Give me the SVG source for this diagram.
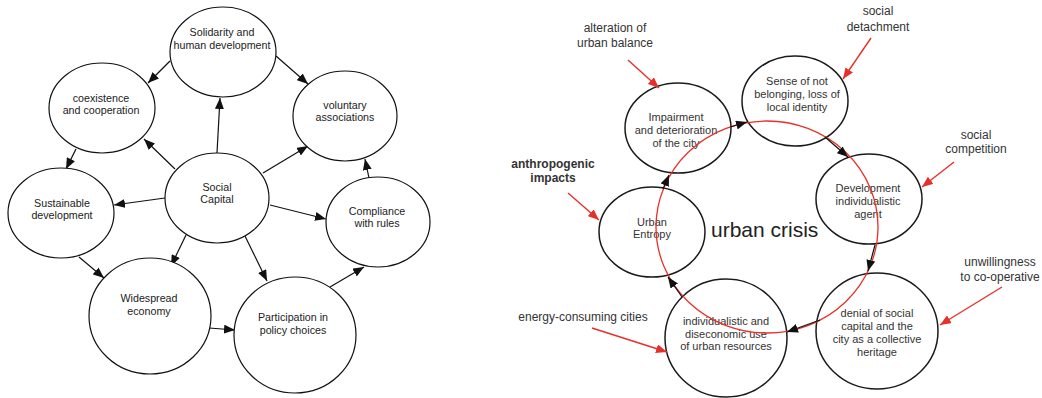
<svg xmlns="http://www.w3.org/2000/svg" width="1042" height="398" viewBox="0 0 1042 398">
<style>
.n{fill:#fff;stroke:#111;stroke-width:1.2}
.rn{fill:#fff;stroke:#1a1a1a;stroke-width:1.5}
.t{font-family:"Liberation Sans",Arial,sans-serif;font-size:10.7px;fill:#222;text-anchor:middle}
.rt{font-family:"Liberation Sans",Arial,sans-serif;font-size:11px;fill:#333;text-anchor:middle}
.lb{font-family:"Liberation Sans",Arial,sans-serif;font-size:12px;fill:#333;text-anchor:middle}
.e{stroke:#111;stroke-width:1.2;fill:none;marker-end:url(#ah)}
.re{stroke:#e8302a;stroke-width:1.4;fill:none;marker-end:url(#rh)}
</style>
<defs>
<marker id="ah" markerUnits="userSpaceOnUse" markerWidth="11" markerHeight="9" refX="11" refY="4.5" orient="auto"><path d="M0,0 L11,4.5 L0,9 z" fill="#111"/></marker>
<marker id="rh" markerUnits="userSpaceOnUse" markerWidth="11" markerHeight="9" refX="11" refY="4.5" orient="auto"><path d="M0,0 L11,4.5 L0,9 z" fill="#e8302a"/></marker>
</defs>
<rect width="1042" height="398" fill="#fff"/>

<g id="connectors-left">
<line class="e" x1="170" y1="61" x2="148" y2="83"/>
<line class="e" x1="276" y1="56" x2="308" y2="84"/>
<line class="e" x1="217" y1="153" x2="220" y2="98"/>
<line class="e" x1="175" y1="169" x2="144" y2="139"/>
<line class="e" x1="263" y1="173" x2="308" y2="146"/>
<line class="e" x1="76" y1="149" x2="66" y2="169"/>
<line class="e" x1="165" y1="198" x2="114" y2="205"/>
<line class="e" x1="270" y1="205" x2="326" y2="219"/>
<line class="e" x1="186" y1="235" x2="171" y2="266"/>
<line class="e" x1="245" y1="236" x2="267" y2="281"/>
<line class="e" x1="79" y1="257" x2="104" y2="278"/>
<line class="e" x1="209" y1="328" x2="235" y2="330"/>
<line class="e" x1="330" y1="287" x2="364" y2="267"/>
<line class="e" x1="369" y1="178" x2="365" y2="159"/>
</g>

<g id="solidarity"><ellipse class="n" cx="223" cy="52" rx="53" ry="45"/><text class="t" x="222" y="36">Solidarity and</text><text class="t" x="222" y="49">human development</text></g>
<g id="coexistence"><ellipse class="n" cx="102" cy="108" rx="53" ry="45"/><text class="t" x="101" y="102">coexistence</text><text class="t" x="101" y="114">and cooperation</text></g>
<g id="voluntary"><ellipse class="n" cx="345" cy="116" rx="52" ry="45"/><text class="t" x="345" y="109">voluntary</text><text class="t" x="345" y="121">associations</text></g>
<g id="social-capital"><ellipse class="n" cx="217" cy="198" rx="52" ry="45"/><text class="t" x="217" y="191">Social</text><text class="t" x="217" y="203">Capital</text></g>
<g id="sustainable"><ellipse class="n" cx="61" cy="213" rx="53" ry="45"/><text class="t" x="62" y="207">Sustainable</text><text class="t" x="62" y="219">development</text></g>
<g id="compliance"><ellipse class="n" cx="378" cy="222" rx="52" ry="45"/><text class="t" x="377" y="215">Compliance</text><text class="t" x="377" y="227">with rules</text></g>
<g id="widespread"><ellipse class="n" cx="150" cy="316" rx="61" ry="58"/><text class="t" x="149" y="302">Widespread</text><text class="t" x="149" y="315">economy</text></g>
<g id="participation"><ellipse class="n" cx="295" cy="335" rx="61" ry="58"/><text class="t" x="293" y="321">Participation in</text><text class="t" x="293" y="334">policy choices</text></g>

<g id="impairment"><ellipse class="rn" cx="678" cy="128" rx="53" ry="45"/><text class="rt" x="676" y="121">Impairment</text><text class="rt" x="676" y="134">and deterioration</text><text class="rt" x="676" y="147">of the city</text></g>
<g id="sense"><ellipse class="rn" cx="795" cy="101" rx="53" ry="45"/><text class="rt" x="797" y="85">Sense of not</text><text class="rt" x="797" y="98">belonging, loss of</text><text class="rt" x="797" y="111">local identity</text></g>
<g id="development"><ellipse class="rn" cx="869" cy="199" rx="53" ry="45"/><text class="rt" x="868" y="192">Development</text><text class="rt" x="868" y="205">individualistic</text><text class="rt" x="868" y="218">agent</text></g>
<g id="denial"><ellipse class="rn" cx="877" cy="331" rx="61" ry="58"/><text class="rt" x="877" y="317">denial of social</text><text class="rt" x="877" y="330">capital and the</text><text class="rt" x="877" y="343">city as a collective</text><text class="rt" x="877" y="356">heritage</text></g>
<g id="individualistic"><ellipse class="rn" cx="726" cy="338" rx="61" ry="59"/><text class="rt" x="726" y="325">individualistic and</text><text class="rt" x="726" y="338">diseconomic use</text><text class="rt" x="726" y="350">of urban resources</text></g>
<g id="entropy"><ellipse class="rn" cx="652" cy="232" rx="53" ry="45"/><text class="rt" x="652" y="226">Urban</text><text class="rt" x="652" y="238">Entropy</text></g>

<g id="crisis-ring"><ellipse cx="767" cy="227" rx="111" ry="106" fill="none" stroke="#e8302a" stroke-width="1.3"/></g>
<text x="711" y="237" font-family="Liberation Sans,Arial,sans-serif" font-size="21" fill="#222">urban crisis</text>

<g id="connectors-right">
<line class="e" x1="663" y1="189" x2="669" y2="175"/>
<line class="e" x1="730" y1="127" x2="747" y2="122"/>
<line class="e" x1="825" y1="137" x2="848" y2="157"/>
<line class="e" x1="875" y1="245" x2="868" y2="271"/>
<line class="e" x1="820" y1="320" x2="787" y2="332"/>
<line class="e" x1="682" y1="297" x2="668" y2="277"/>
<line class="re" x1="628" y1="60" x2="659" y2="88"/>
<line class="re" x1="871" y1="38" x2="843" y2="79"/>
<line class="re" x1="954" y1="162" x2="922" y2="187"/>
<line class="re" x1="568" y1="193" x2="599" y2="220"/>
<line class="re" x1="592" y1="328" x2="667" y2="352"/>
<line class="re" x1="1002" y1="287" x2="940" y2="325"/>
</g>

<g id="labels">
<text class="lb" x="615" y="32">alteration of</text><text class="lb" x="615" y="47">urban balance</text>
<text class="lb" x="878" y="15" font-size="13.4">social</text><text class="lb" x="878" y="31" font-size="13.4">detachment</text>
<text class="lb" x="976" y="139">social</text><text class="lb" x="976" y="153">competition</text>
<text class="lb" x="553" y="168" font-weight="bold" fill="#111">anthropogenic</text><text class="lb" x="553" y="182" font-weight="bold" fill="#111">impacts</text>
<text class="lb" x="583" y="321">energy-consuming cities</text>
<text class="lb" x="1000" y="266">unwillingness</text><text class="lb" x="1000" y="281">to co-operative</text>
</g>
</svg>
